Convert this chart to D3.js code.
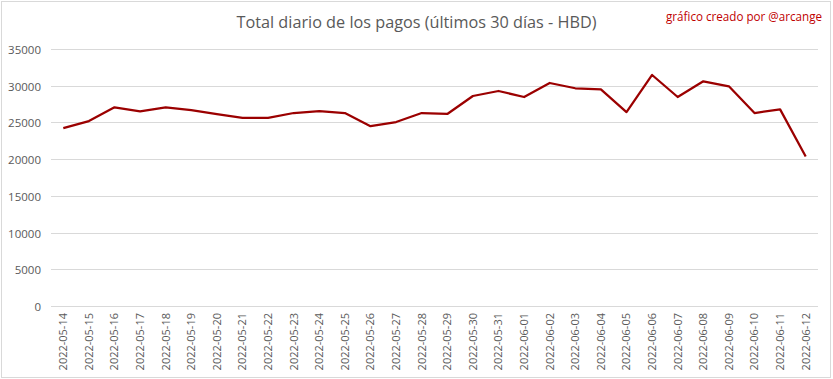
<!DOCTYPE html>
<html><head><meta charset="utf-8">
<script src="https://cdn.jsdelivr.net/npm/d3@7/dist/d3.min.js"></script>
<style>body{margin:0;background:#fff}svg{display:block}text{font-family:"Open Sans","Liberation Sans",sans-serif}</style>
</head><body><svg id="c" width="833" height="379"></svg>
<script>
const titleText = "Total diario de los pagos (últimos 30 días - HBD)";
const creditText = "gráfico creado por @arcange";
const dates = ["2022-05-14","2022-05-15","2022-05-16","2022-05-17","2022-05-18","2022-05-19","2022-05-20","2022-05-21","2022-05-22","2022-05-23","2022-05-24","2022-05-25","2022-05-26","2022-05-27","2022-05-28","2022-05-29","2022-05-30","2022-05-31","2022-06-01","2022-06-02","2022-06-03","2022-06-04","2022-06-05","2022-06-06","2022-06-07","2022-06-08","2022-06-09","2022-06-10","2022-06-11","2022-06-12"];
const values = [24300,25250,27120,26580,27120,26750,26200,25680,25680,26350,26600,26350,24550,25120,26350,26220,28670,29350,28530,30440,29720,29580,26480,31530,28530,30670,29990,26350,26850,20430];
const yTicks = [0,5000,10000,15000,20000,25000,30000,35000];

const svg = d3.select("#c");
svg.append("rect").attr("x",1.5).attr("y",1.5).attr("width",829).attr("height",376)
  .attr("fill","#fff").attr("stroke","#d9d9d9");

const x = d3.scaleBand().domain(dates).range([50.5,818.5]);
const y = d3.scaleLinear().domain([0,35000]).range([306.5,49.5]);
const py = d => Math.floor(y(d)) + 0.5;

// gridlines
svg.append("g").selectAll("line").data(yTicks).join("line")
  .attr("x1",51).attr("x2",818)
  .attr("y1",py).attr("y2",py)
  .attr("stroke","#d9d9d9").attr("stroke-width",1);

// y axis labels
const ya = svg.append("g").attr("transform","translate(41,0)")
  .call(d3.axisLeft(y).tickValues(yTicks).tickSize(0).tickPadding(0).tickFormat(d3.format("d")));
ya.select(".domain").remove();
ya.selectAll("text").attr("fill","#595959").style("font-size","11.5px").attr("dy","0.35em")
  .attr("transform",d=>`translate(0,${py(d)-y(d)})`);

// x axis
const xa = svg.append("g").attr("transform","translate(0,306)")
  .call(d3.axisBottom(x).tickSize(0).tickPadding(0));
xa.select(".domain").remove();
xa.selectAll("text").attr("fill","#595959").style("font-size","11px")
  .attr("transform","rotate(-90)").attr("text-anchor","end")
  .attr("x",-7).attr("y",0).attr("dy","0.35em");

// line
const line = d3.line().x((d,i)=>x(dates[i])+x.bandwidth()/2).y(d=>y(d));
svg.append("path").datum(values).attr("d",line).attr("fill","none")
  .attr("stroke","#9b0000").attr("stroke-width",2.25).attr("stroke-linejoin","round");

// title
svg.append("text").attr("x",416.5).attr("y",28).attr("text-anchor","middle")
  .attr("fill","#595959").style("font-size","17px")
  .attr("textLength",360).attr("lengthAdjust","spacingAndGlyphs").text(titleText);
svg.append("text").attr("x",822).attr("y",21).attr("text-anchor","end")
  .attr("fill","#c00000").style("font-size","12px").attr("textLength",156).attr("lengthAdjust","spacingAndGlyphs").text(creditText);
</script></body></html>
